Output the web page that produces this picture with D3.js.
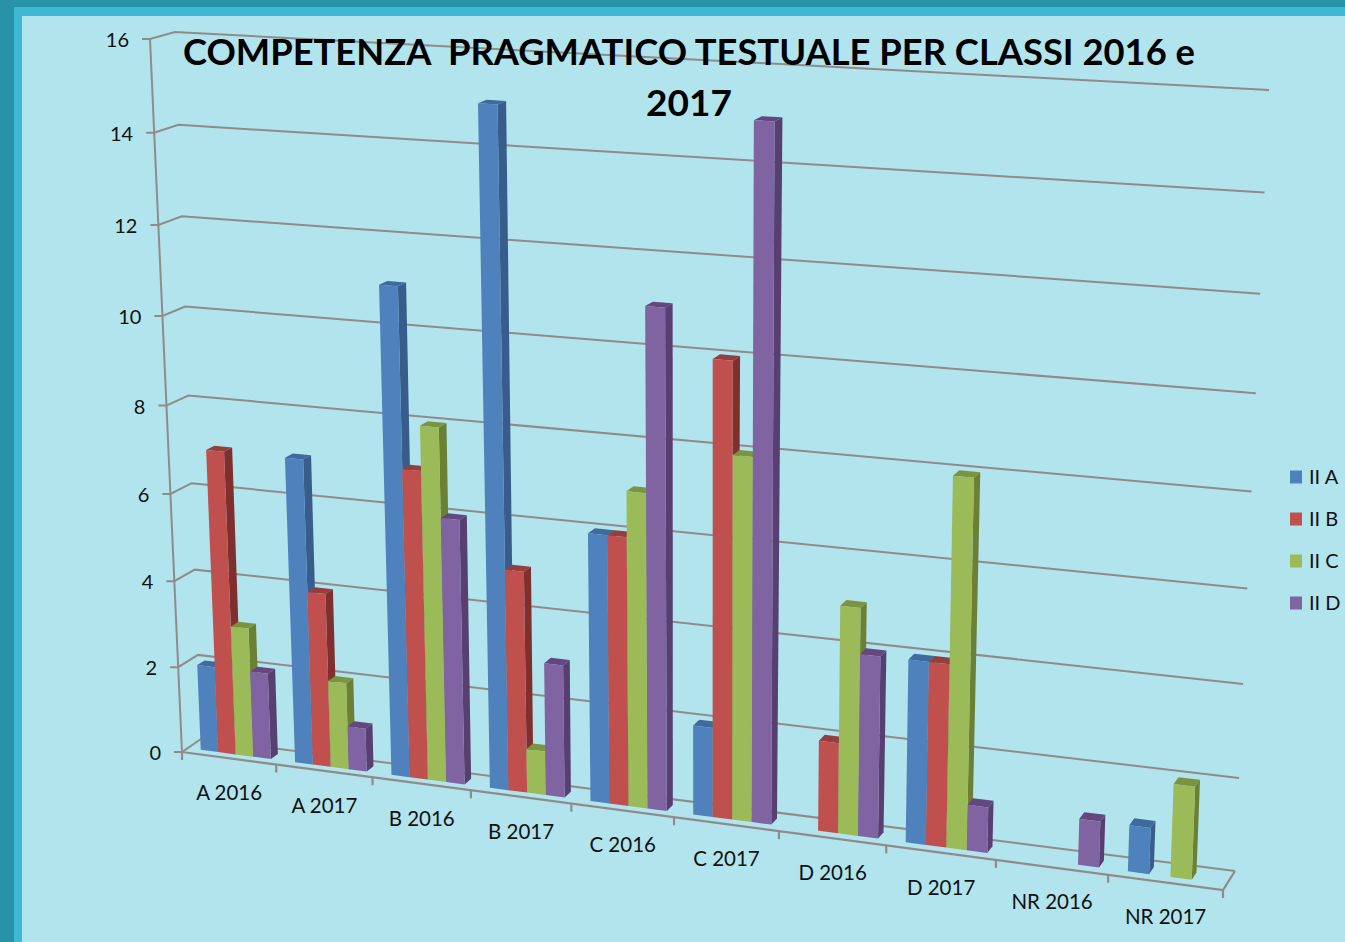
<!DOCTYPE html>
<html><head><meta charset="utf-8">
<script src="https://cdn.jsdelivr.net/npm/d3@7"></script>
<style>html,body{margin:0;padding:0;background:#B2E4EE;overflow:hidden}svg{display:block}text{font-family:Lato,"Noto Sans",sans-serif;fill:#111}</style>
</head><body><svg id="c" width="1345" height="942"></svg>
<script>
const categories=["A 2016","A 2017","B 2016","B 2017","C 2016","C 2017","D 2016","D 2017","NR 2016","NR 2017"];
const seriesNames=["II A","II B","II C","II D"];
const iiA=[2,7,11,15,6,2,0,4,0,1];
const iiB=[7,4,7,5,6,10,2,4,0,0];
const iiC=[3,2,8,1,7,8,5,8,0,2];
const iiD=[2,1,6,3,11,15,4,1,1,0];
const seriesValues=[iiA,iiB,iiC,iiD];
const titleLines=["COMPETENZA  PRAGMATICO TESTUALE PER CLASSI 2016 e","2017"];
const frontColors=["#4F81BD","#C0504D","#9BBB59","#8064A2"];
const sideColors=["#385D8A","#7F2F2D","#6B8035","#573F6F"];
const topColors=["#3E6A9D","#93403D","#7A9440","#64477F"];
const gridColor="#8F8B8B";

const svg=d3.select("#c");
svg.append("rect").attr("width",1345).attr("height",942).attr("fill","#B2E4EE");
svg.append("rect").attr("x",14).attr("y",7).attr("width",1331).attr("height",9).attr("fill","#3FB9D3");
svg.append("rect").attr("x",14).attr("y",7).attr("width",8).attr("height",935).attr("fill","#3FB9D3");
svg.append("rect").attr("width",1345).attr("height",7).attr("fill","#2892A8");
svg.append("rect").attr("width",14).attr("height",942).attr("fill","#2892A8");

// perspective box: corners of the chart cube on the page
const box={ftl:[150,39],fbl:[182,752],fbr:[1223,890],ftr:[1251,103],btl:[175,32],bbl:[201,739],bbr:[1235,871],btr:[1269,90]};
const warp=c=>t=>(1+c)*t/(1+c*t);
const warpU=warp(-0.1038),warpV=warp(-0.055);
const lerp=(a,b,t)=>[a[0]+(b[0]-a[0])*t,a[1]+(b[1]-a[1])*t];
function project(u,val,w){
  const U=warpU(u),V=warpV(val);
  const fb=lerp(box.fbl,box.fbr,U),ft=lerp(box.ftl,box.ftr,U);
  const bb=lerp(box.bbl,box.bbr,U),bt=lerp(box.btl,box.btr,U);
  return lerp(lerp(fb,ft,V),lerp(bb,bt,V),w);
}
const xCat=d3.scaleBand().domain(categories).range([0,1]);
const xSer=d3.scaleBand().domain(seriesNames).range([0.14,0.885]);
const yVal=d3.scaleLinear().domain([0,16]).range([0,1]);
const wFront=0.3,wBack=0.68;
const line=d3.line();
const g=svg.append("g");
const stroke=(pts,sw)=>g.append("path").attr("d",line(pts)).attr("fill","none").attr("stroke",gridColor).attr("stroke-width",sw||2);

// walls, gridlines, ticks
const yTicks=yVal.ticks(8);
yTicks.forEach(t=>{
  const v=yVal(t);
  const a=project(0,v,0),b=project(0,v,1),c=project(1,v,1);
  stroke([[a[0]-8,a[1]],a,b,c]);
  svg.append("text").attr("x",a[0]-21).attr("y",a[1]+1).attr("dy",".35em").attr("text-anchor","end").attr("font-size",20).text(t);
});
stroke([project(0,1,0),project(0,0,0)],2);
stroke([project(0,0,0),project(1,0,0),project(1,0,1)],2.2);
d3.range(categories.length+1).forEach(i=>{
  const p=project(i/categories.length,0,0);
  stroke([p,[p[0],p[1]+8]],2.2);
});
categories.forEach(c=>{
  const bw=xCat.bandwidth();
  const a=project(xCat(c),0,0),b=project(xCat(c)+bw,0,0);
  svg.append("text").attr("x",(a[0]+b[0])/2).attr("y",(a[1]+b[1])/2+42)
    .attr("text-anchor","middle").attr("font-size",20.5).text(c);
});

// bars
categories.forEach((c,i)=>{
  seriesNames.forEach((s,k)=>{
    const val=seriesValues[k][i];
    if(!val) return;
    const bw=xCat.bandwidth();
    const u0=xCat(c)+xSer(s)*bw,u1=u0+xSer.bandwidth()*bw,h=yVal(val);
    const P=(u,v,w)=>project(u,v,w);
    const poly=(pts,col)=>g.append("polygon").attr("points",pts.map(p=>p.join(",")).join(" ")).attr("fill",col);
    poly([P(u1,0,wFront),P(u1,0,wBack),P(u1,h,wBack),P(u1,h,wFront)],sideColors[k]);
    poly([P(u0,h,wFront),P(u1,h,wFront),P(u1,h,wBack),P(u0,h,wBack)],topColors[k]);
    poly([P(u0,0,wFront),P(u1,0,wFront),P(u1,h,wFront),P(u0,h,wFront)],frontColors[k]);
  });
});

// title
svg.append("text").attr("x",183).attr("y",65).attr("font-size",37).attr("font-weight",700).attr("textLength",1012).attr("lengthAdjust","spacingAndGlyphs").style("fill","#000").style("white-space","pre").text(titleLines[0]);
svg.append("text").attr("x",689).attr("y",116).attr("text-anchor","middle").attr("font-size",37).attr("font-weight",700).style("fill","#000").text(titleLines[1]);

// legend
const yLeg=d3.scalePoint().domain(seriesNames).range([477,603]);
seriesNames.forEach((s,k)=>{
  svg.append("rect").attr("x",1290).attr("y",yLeg(s)-6.5).attr("width",12).attr("height",13).attr("fill",frontColors[k]);
  svg.append("text").attr("x",1309).attr("y",yLeg(s)).attr("dy",".35em").attr("font-size",20).text(s);
});
</script></body></html>
